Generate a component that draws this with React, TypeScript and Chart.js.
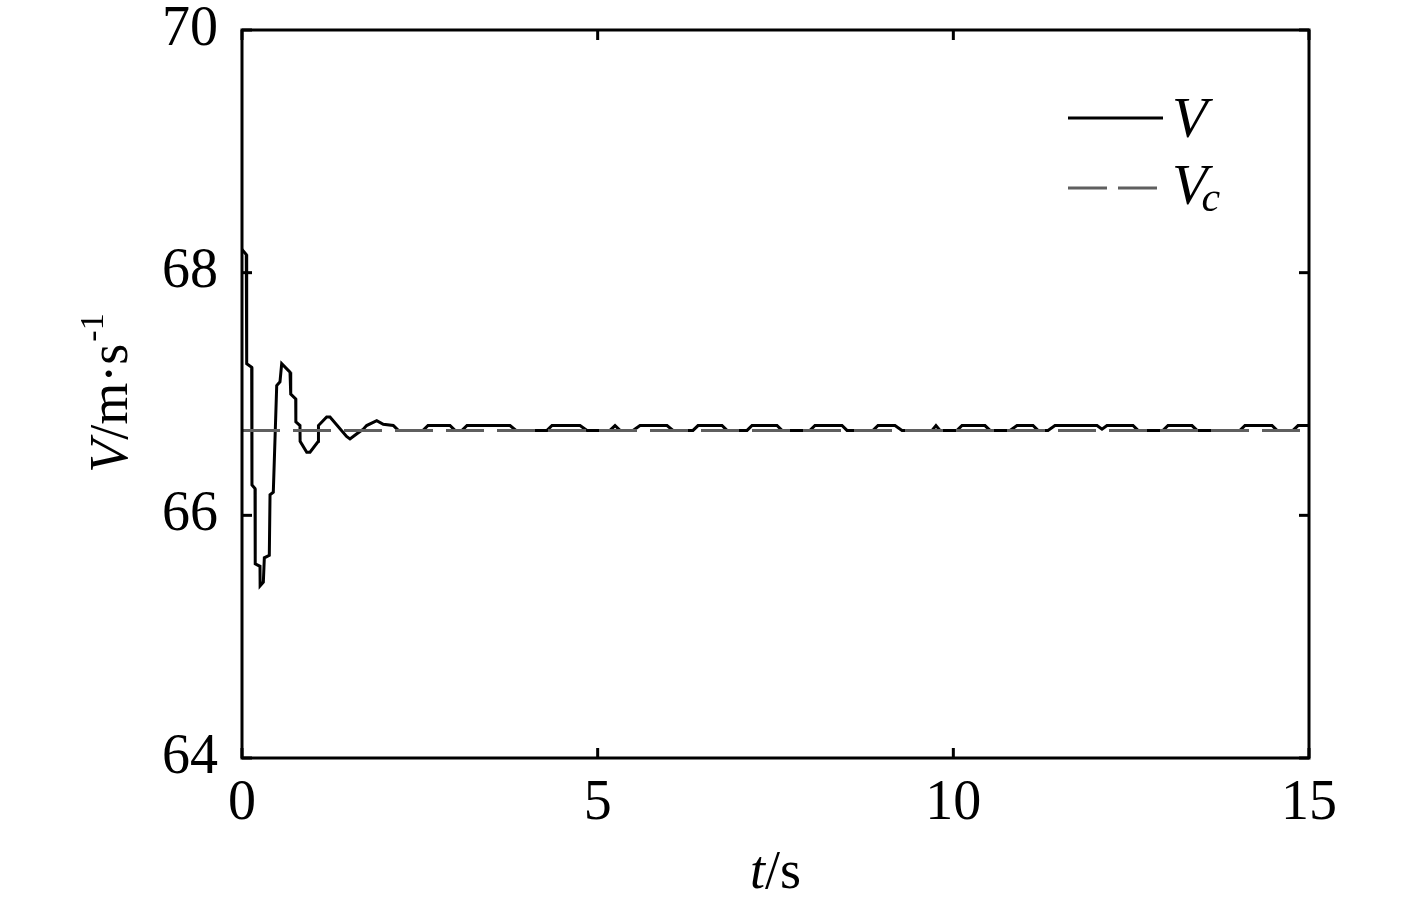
import React, { useEffect, useRef } from "react";
import { Chart, registerables } from "chart.js";

Chart.register(...registerables);

// ---- data ----
const vTime = [
  0, 0.06, 0.066, 0.136, 0.14, 0.183, 0.186, 0.253, 0.255, 0.3, 0.314, 0.384, 0.394, 0.44,
  0.488, 0.534, 0.558, 0.675, 0.685, 0.755, 0.757, 0.815, 0.817, 0.91, 0.956, 1.073, 1.075,
  1.19, 1.237, 1.47, 1.518, 1.61, 1.705, 1.752, 1.894, 1.986, 2.127, 2.197,
  2.545, 2.615, 2.924, 2.994, 3.093, 3.163, 3.768, 3.852, 4.288, 4.358, 4.752, 4.85,
  5.173, 5.244, 5.314, 5.497, 5.595, 5.975, 6.059, 6.34, 6.411, 6.748, 6.818, 7.1, 7.17,
  7.521, 7.591, 7.985, 8.055, 8.435, 8.505, 8.871, 8.941, 9.18, 9.278, 9.7, 9.756, 9.813,
  10.052, 10.122, 10.445, 10.516, 10.797, 10.895, 11.12, 11.19, 11.331, 11.429, 12.02,
  12.09, 12.16, 12.526, 12.596, 12.948, 13.018, 13.355, 13.426, 14.03, 14.1, 14.48, 14.55,
  14.775, 14.846, 15,
];
const vValue = [
  68.19, 68.15, 67.25, 67.22, 66.25, 66.22, 65.6, 65.58, 65.42, 65.45, 65.65, 65.67, 66.17, 66.19,
  67.07, 67.1, 67.25, 67.18, 67.0, 66.96, 66.77, 66.74, 66.61, 66.52, 66.52, 66.61, 66.74,
  66.81, 66.81, 66.65, 66.63, 66.67, 66.71, 66.74, 66.78, 66.75, 66.74, 66.7,
  66.7, 66.74, 66.74, 66.7, 66.7, 66.74, 66.74, 66.7, 66.7, 66.74, 66.74, 66.7,
  66.7, 66.74, 66.7, 66.7, 66.74, 66.74, 66.7, 66.7, 66.74, 66.74, 66.7, 66.7, 66.74,
  66.74, 66.7, 66.7, 66.74, 66.74, 66.7, 66.7, 66.74, 66.74, 66.7, 66.7, 66.74, 66.7,
  66.7, 66.74, 66.74, 66.7, 66.7, 66.74, 66.74, 66.7, 66.7, 66.74, 66.74,
  66.71, 66.74, 66.74, 66.7, 66.7, 66.74, 66.74, 66.7, 66.7, 66.74, 66.74, 66.7,
  66.7, 66.74, 66.74,
];
const vcTime = [0, 15];
const vcValue = [66.7, 66.7];
const xTicks = [0, 5, 10, 15];
const yTicks = [64, 66, 68, 70];
const seriesNames = ["V", "Vc"];

const FONT = "'Liberation Serif', 'Times New Roman', serif";
const V_COLOR = "#000000";
const VC_COLOR = "#5f5f5f";

const overlayPlugin = {
  id: "overlay",
  afterDraw(chart: any) {
    const { ctx, chartArea: a, scales } = chart;
    ctx.save();
    ctx.strokeStyle = "#000";
    ctx.lineWidth = 3;
    ctx.lineCap = "butt";
    const line = (x1: number, y1: number, x2: number, y2: number) => {
      ctx.beginPath();
      ctx.moveTo(x1, y1);
      ctx.lineTo(x2, y2);
      ctx.stroke();
    };
    // inward ticks
    for (const v of yTicks) {
      const y = scales.y.getPixelForValue(v);
      line(a.left, y, a.left + 10, y);
      line(a.right, y, a.right - 10, y);
    }
    for (const v of xTicks) {
      const x = scales.x.getPixelForValue(v);
      line(x, a.bottom, x, a.bottom - 10);
      line(x, a.top, x, a.top + 10);
    }
    // box
    ctx.lineJoin = "miter";
    ctx.strokeRect(a.left, a.top, a.right - a.left, a.bottom - a.top);

    ctx.fillStyle = "#000";
    ctx.textBaseline = "alphabetic";
    // x title: t/s
    {
      const fi = `italic 54px ${FONT}`;
      const fn = `54px ${FONT}`;
      ctx.font = fi;
      const w1 = ctx.measureText("t").width;
      ctx.font = fn;
      const w2 = ctx.measureText("/s").width;
      const cx = (a.left + a.right) / 2;
      let x = cx - (w1 + w2) / 2;
      const y = 888;
      ctx.font = fi;
      ctx.fillText("t", x, y);
      ctx.font = fn;
      ctx.fillText("/s", x + w1, y);
    }
    // y title: V/m·s^-1
    {
      ctx.save();
      ctx.translate(127, (a.top + a.bottom) / 2);
      ctx.rotate(-Math.PI / 2);
      const fi = `italic 54px ${FONT}`;
      const fn = `54px ${FONT}`;
      const fs = `34px ${FONT}`;
      ctx.font = fi;
      const w1 = ctx.measureText("V").width;
      ctx.font = fn;
      const w2 = ctx.measureText("/m·s").width;
      ctx.font = fs;
      const w3 = ctx.measureText("-1").width;
      let x = -(w1 + w2 + w3) / 2;
      ctx.font = fi;
      ctx.fillText("V", x, 0);
      x += w1;
      ctx.font = fn;
      ctx.fillText("/m·s", x, 0);
      x += w2;
      ctx.font = fs;
      ctx.fillText("-1", x + 2, -24);
      ctx.restore();
    }
    // legend
    {
      const ds0 = chart.data.datasets[1];
      const ds1 = chart.data.datasets[0];
      ctx.lineWidth = 3;
      ctx.strokeStyle = ds0.borderColor;
      ctx.setLineDash([]);
      line(1068, 118, 1163, 118);
      ctx.strokeStyle = ds1.borderColor;
      ctx.setLineDash([39, 11]);
      line(1068, 188, 1157, 188);
      ctx.setLineDash([]);
      ctx.font = `italic 58px ${FONT}`;
      ctx.fillText(seriesNames[0], 1172, 137);
      ctx.fillText(seriesNames[1].charAt(0), 1172, 204);
      const wv = ctx.measureText("V").width;
      ctx.font = `italic 42px ${FONT}`;
      ctx.fillText(seriesNames[1].slice(1), 1172 + wv - 6, 211);
    }
    ctx.restore();
  },
};

export default function App() {
  const ref = useRef<HTMLCanvasElement | null>(null);
  useEffect(() => {
    if (!ref.current) return;
    const chart = new Chart(ref.current, {
      type: "line",
      data: {
        datasets: [
          {
            label: seriesNames[1],
            data: vcTime.map((t, i) => ({ x: t, y: vcValue[i] })),
            borderColor: VC_COLOR,
            borderWidth: 3,
            borderDash: [38, 13],
            pointRadius: 0,
            tension: 0,
            fill: false,
            order: 0,
          },
          {
            label: seriesNames[0],
            data: vTime.map((t, i) => ({ x: t, y: vValue[i] })),
            borderColor: V_COLOR,
            borderWidth: 3,
            pointRadius: 0,
            tension: 0,
            fill: false,
            order: 1,
            borderJoinStyle: "miter",
          },
        ],
      },
      options: {
        animation: false,
        responsive: true,
        maintainAspectRatio: false,
        layout: { padding: { top: 30, right: 108, left: 0, bottom: 0 } },
        plugins: {
          legend: { display: false },
          tooltip: { enabled: false },
          title: { display: false },
        },
        scales: {
          x: {
            type: "linear",
            min: 0,
            max: 15,
            grid: { display: false, drawTicks: false },
            border: { display: false },
            afterBuildTicks: (s: any) => {
              s.ticks = xTicks.map((v) => ({ value: v }));
            },
            afterFit: (s: any) => {
              s.height = 140;
              s.paddingLeft = 0;
              s.paddingRight = 0;
            },
            ticks: {
              color: "#000",
              padding: 18,
              maxRotation: 0,
              font: { family: FONT, size: 56, lineHeight: 1 },
            },
          },
          y: {
            type: "linear",
            min: 64,
            max: 70,
            grid: { display: false, drawTicks: false },
            border: { display: false },
            afterBuildTicks: (s: any) => {
              s.ticks = yTicks.map((v) => ({ value: v }));
            },
            afterFit: (s: any) => {
              s.width = 242;
              s.paddingTop = 0;
              s.paddingBottom = 0;
            },
            ticks: {
              color: "#000",
              padding: 24,
              font: { family: FONT, size: 56, lineHeight: 1 },
            },
          },
        },
      },
      plugins: [overlayPlugin],
    });
    return () => chart.destroy();
  }, []);
  return (
    <div style={{ position: "absolute", left: 0, top: 0, width: 1417, height: 898, background: "#fff" }}>
      <canvas ref={ref} />
    </div>
  );
}
